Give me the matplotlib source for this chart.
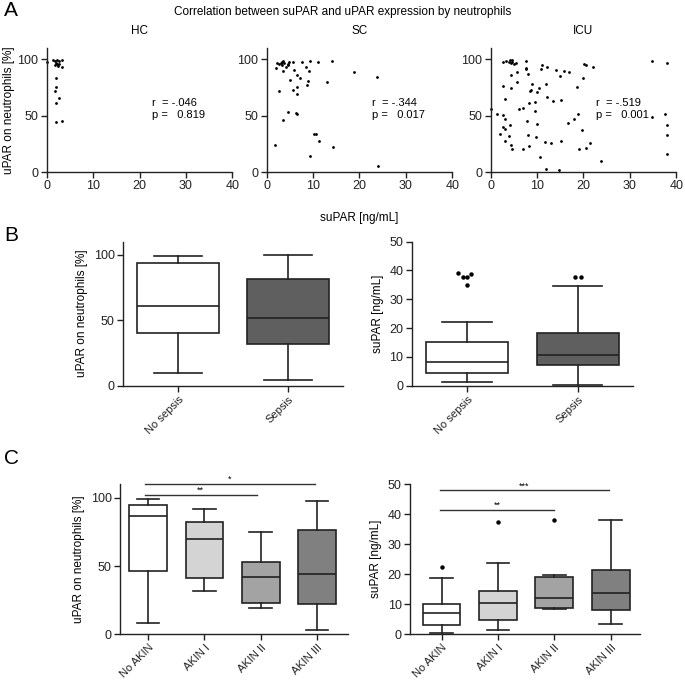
import matplotlib
matplotlib.use("Agg")
import matplotlib.pyplot as plt

plt.rcParams['font.family'] = ['Liberation Sans', 'DejaVu Sans']
plt.rcParams['font.size'] = 8

# ---- data: panel A scatter (suPAR ng/mL, uPAR %) ----
hc_x = [0.0, 1.4, 1.8, 2.3, 2.7, 3.4, 2.0, 2.3, 2.7, 2.5, 3.2, 1.7, 2.0, 2.0, 1.7, 2.6, 2.1, 2.0, 3.4]
hc_y = [98, 99.4, 98.8, 99.4, 98.5, 99.1, 96.7, 95.5, 95.8, 93.7, 92.8, 95.2, 83.8, 75.1, 71.9, 65.6, 60.8, 44.6, 45.2]

sc_x = [2.1, 2.3, 2.7, 3.1, 3.3, 3.6, 3.8, 3.4, 3.6, 4.1, 4.6, 4.7, 4.9, 5.7, 5.8, 5.0, 6.6, 7.1,
        7.6, 8.4, 9.2, 9.4, 11.1, 14.1, 18.8, 23.7, 13.1, 8.9, 8.7, 2.6, 5.7, 6.6, 6.5, 4.6, 6.4,
        6.6, 3.5, 1.9, 10.2, 10.6, 11.3, 14.4, 9.4, 23.9]
sc_y = [91.9, 96.4, 95.8, 97, 97.6, 98.2, 97, 94.6, 89.2, 93.4, 94.6, 96.1, 97.6, 97.9, 90.7, 82,
        86.2, 83.5, 97.3, 93.1, 89.8, 98.2, 97.9, 98.2, 88.9, 84.4, 79.9, 81.1, 76.9, 72.1, 72.7,
        75.4, 69.4, 53.5, 52, 51.1, 46.5, 24, 33.6, 33.6, 27.9, 22.5, 13.8, 5.4]

icu_x = [0.1, 1.4, 2.0, 2.6, 3.3, 3.9, 4.1, 4.6, 5.0, 4.4, 5.4, 4.7, 2.7, 3.1, 2.6, 3.1, 2.7, 3.1,
         3.1, 3.9, 4.1, 4.3, 4.6, 4.3, 4.4, 5.7, 5.7, 6.1, 7.0, 7.0, 7.6, 7.6, 7.7, 8.1, 7.9, 8.1,
         8.3, 8.4, 8.7, 8.9, 8.3, 9.5, 9.6, 9.9, 9.7, 10.0, 10.4, 10.6, 10.8, 11.1, 12.1, 12.0,
         12.1, 11.7, 11.9, 13.0, 13.4, 14.1, 15.0, 15.1, 15.1, 15.8, 16.9, 14.7, 16.6, 17.9, 18.7,
         18.9, 19.0, 19.6, 19.8, 20.1, 20.6, 20.5, 21.4, 22.1, 23.7, 34.8, 34.7, 37.5, 38.0, 37.9,
         38.0, 37.9]
icu_y = [55.9, 51.4, 34, 97.9, 98.2, 97.9, 99.1, 97.6, 95.8, 97, 97, 99.4, 76, 64.9, 50.5, 47.2,
         40, 38.4, 27.3, 32.1, 42, 24, 20.7, 74.5, 86.5, 88.6, 79.9, 56.2, 57.1, 20.4, 98.2, 92.5,
         91.3, 87.1, 45.1, 33, 23.1, 71.5, 73, 78.1, 61.6, 53.8, 61.9, 70.6, 31.2, 43, 74.8, 12.9,
         91, 94.6, 92.8, 78.4, 66.4, 26.7, 3, 25.5, 62.8, 90.4, 85.6, 64, 27.3, 89.2, 88.6, 1.8,
         43.5, 46.8, 75.1, 51.1, 20.4, 36.9, 83.2, 95.8, 95.2, 21.3, 25.5, 93.1, 9.6, 98.2, 49,
         51.4, 96.4, 41.5, 33, 15.9]

groups_a = ["HC", "SC", "ICU"]
r_vals = ["-.046", "-.344", "-.519"]
p_vals = ["0.819", "0.017", "0.001"]

# ---- data: panel B box stats (whislo, q1, med, q3, whishi) ----
sepsis_labels = ["No sepsis", "Sepsis"]
b_upar = [[9.4, 40, 60.8, 94.1, 99], [4, 32, 51.4, 81.4, 100]]
b_supar = [[1.4, 4.3, 8.1, 15.0, 22.1], [0.35, 7.1, 10.7, 18.4, 34.6]]
b_supar_out = [[39.1, 37.9, 37.9, 38.8, 34.9], [37.6, 37.9]]
b_supar_out_x = [[-0.08, -0.04, 0.0, 0.04, 0.0], [-0.02, 0.03]]

# ---- data: panel C box stats ----
akin_labels = ["No AKIN", "AKIN I", "AKIN II", "AKIN III"]
c_upar = [[8.4, 46.2, 86.5, 94.8, 99], [31.9, 41.3, 69.8, 82.6, 91.6],
          [18.9, 22.6, 41.8, 53.1, 74.9], [2.9, 21.9, 44.5, 76.4, 97.8]]
c_supar = [[0.3, 3.1, 7.1, 10.1, 18.8], [1.4, 4.8, 10.4, 14.4, 23.6],
           [8.4, 8.7, 12.2, 19.0, 19.6], [3.5, 8.2, 13.6, 21.3, 38.1]]
c_supar_out = [[22.3], [37.5], [38.0], []]

sepsis_colors = ["white", "#5f5f5f"]
akin_colors = ["white", "#d4d4d4", "#a3a3a3", "#808080"]

fig = plt.figure(figsize=(6.85, 6.82), dpi=100)


def style(ax):
    for s in ["top", "right"]:
        ax.spines[s].set_visible(False)
    for s in ["left", "bottom"]:
        ax.spines[s].set_linewidth(1.0)
        ax.spines[s].set_color("#222222")
    ax.tick_params(direction="out", length=4, width=1.0, labelsize=9, colors="#222222", pad=2)


# ---- Panel A ----
scatter_x = [hc_x, sc_x, icu_x]
scatter_y = [hc_y, sc_y, icu_y]
lefts = [0.0682, 0.3893, 0.7163]
for i, name in enumerate(groups_a):
    ax = fig.add_axes([lefts[i], 0.7478, 0.2710, 0.1818])
    ax.plot(scatter_x[i], scatter_y[i], "o", ms=2.0, color="black", mec="none", clip_on=False)
    ax.set_xlim(0, 40)
    ax.set_ylim(0, 110)
    ax.set_xticks([0, 10, 20, 30, 40])
    ax.set_yticks([0, 50, 100])
    style(ax)
    ax.set_title(name, fontsize=8.5, pad=10)
    ax.text(22.6, 56, f"r  = {r_vals[i]}\np =   {p_vals[i]}", fontsize=8,
            va="center", ha="left", linespacing=1.3)
    if i == 0:
        ax.set_ylabel("uPAR on neutrophils [%]", fontsize=8.5, labelpad=2)
    if i == 1:
        ax.set_xlabel("suPAR [ng/mL]", fontsize=8.5, labelpad=14)

fig.text(0.5, 0.982, "Correlation between suPAR and uPAR expression by neutrophils",
         ha="center", va="center", fontsize=8.5)


def boxes(ax, stats, outliers, colors, labels, width):
    data = []
    for k, s in enumerate(stats):
        data.append(dict(whislo=s[0], q1=s[1], med=s[2], q3=s[3], whishi=s[4],
                         fliers=outliers[k] if outliers else []))
    bp = ax.bxp(data, positions=range(len(stats)), widths=width, patch_artist=True,
                boxprops=dict(linewidth=1.2, edgecolor="#222222"),
                medianprops=dict(color="#222222", linewidth=1.2),
                whiskerprops=dict(color="#222222", linewidth=1.2),
                capprops=dict(color="#222222", linewidth=1.2),
                capwidths=width * 0.6,
                flierprops=dict(marker="o", markersize=3.2, markerfacecolor="black",
                                markeredgecolor="none"))
    for patch, c in zip(bp["boxes"], colors):
        patch.set_facecolor(c)
    style(ax)
    ax.set_xticks(range(len(stats)))
    ax.set_xticklabels(labels, rotation=45, ha="right", rotation_mode="anchor")
    ax.tick_params(axis="x", labelsize=8)
    return bp


def bracket(ax, x0, x1, y, label):
    ax.plot([x0, x1], [y, y], color="#333333", lw=1.0, clip_on=False)
    ax.text((x0 + x1) / 2, y, label, ha="center", va="bottom", fontsize=6.5)


# ---- Panel B ----
ax = fig.add_axes([0.1796, 0.4345, 0.3212, 0.2111])
boxes(ax, b_upar, None, sepsis_colors, sepsis_labels, 0.74)
ax.set_xlim(-0.5, 1.5)
ax.set_ylim(0, 110)
ax.set_yticks([0, 50, 100])
ax.set_ylabel("uPAR on neutrophils [%]", fontsize=8.5)

ax = fig.add_axes([0.601, 0.4345, 0.323, 0.2111])
bp = boxes(ax, b_supar, b_supar_out, sepsis_colors, sepsis_labels, 0.74)
# spread tied outliers sideways like in the original
for k, fl in enumerate(bp["fliers"]):
    fl.set_xdata([k + dx for dx in b_supar_out_x[k]])
ax.set_xlim(-0.5, 1.5)
ax.set_ylim(0, 50)
ax.set_yticks([0, 10, 20, 30, 40, 50])
ax.set_ylabel("suPAR [ng/mL]", fontsize=8.5)

# ---- Panel C ----
ax = fig.add_axes([0.1752, 0.070, 0.3328, 0.2199])
boxes(ax, c_upar, None, akin_colors, akin_labels, 0.67)
ax.set_xlim(-0.5, 3.55)
ax.set_ylim(0, 110)
ax.set_yticks([0, 50, 100])
ax.set_ylabel("uPAR on neutrophils [%]", fontsize=8.5)
bracket(ax, -0.06, 1.93, 102, "**")
bracket(ax, -0.06, 2.96, 110.5, "*")

ax = fig.add_axes([0.5985, 0.070, 0.3358, 0.2199])
boxes(ax, c_supar, c_supar_out, akin_colors, akin_labels, 0.67)
ax.set_xlim(-0.56, 3.52)
ax.set_ylim(0, 50)
ax.set_yticks([0, 10, 20, 30, 40, 50])
ax.set_ylabel("suPAR [ng/mL]", fontsize=8.5)
bracket(ax, -0.03, 2.0, 41.5, "**")
bracket(ax, -0.03, 2.97, 48.0, "***")

# panel letters
fig.text(0.006, 0.984, "A", fontsize=15, va="center")
fig.text(0.006, 0.654, "B", fontsize=15, va="center")
fig.text(0.006, 0.327, "C", fontsize=15, va="center")

fig.savefig("out.png", dpi=100)
